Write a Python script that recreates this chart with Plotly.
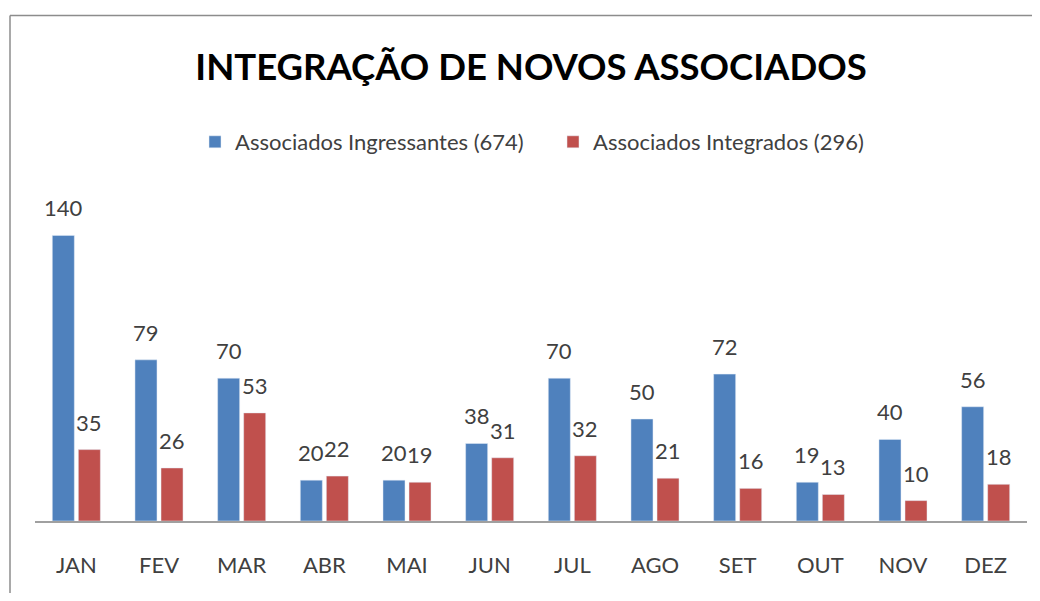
import plotly.graph_objects as go

meses = ["JAN", "FEV", "MAR", "ABR", "MAI", "JUN", "JUL", "AGO", "SET", "OUT", "NOV", "DEZ"]
ingressantes = [140, 79, 70, 20, 20, 38, 70, 50, 72, 19, 40, 56]
integrados = [35, 26, 53, 22, 19, 31, 32, 21, 16, 13, 10, 18]
nome_ing = "Associados Ingressantes (674)"
nome_int = "Associados Integrados (296)"
titulo = "INTEGRAÇÃO DE NOVOS ASSOCIADOS"

# the page body has an 8px margin; work in figure pixels = page pixels - 8
OFF = 8
W, H = 1040 - 2 * OFF, 601 - 2 * OFF
PLOT_L, PLOT_R, PLOT_B = 35 - OFF, 1027 - OFF, 521 - OFF
MT = 200 - OFF
ML, MR, MB = PLOT_L, W - PLOT_R, H - PLOT_B
PW = W - ML - MR
PH = H - MT - MB
FONT = "Lato, Carlito, Calibri, Arial, sans-serif"
BLUE = "#4F81BD"
RED = "#C0504D"

fig = go.Figure()
fig.add_trace(go.Bar(x=meses, y=ingressantes, name=nome_ing, marker_color=BLUE))
fig.add_trace(go.Bar(x=meses, y=integrados, name=nome_int, marker_color=RED))

annotations = []
for vals, shift in ((ingressantes, -13), (integrados, 13)):
    for m, v in zip(meses, vals):
        annotations.append(dict(
            x=m, y=v, xref="x", yref="y", text=str(v), showarrow=False,
            xanchor="center", yanchor="bottom", xshift=shift, yshift=12,
            font=dict(family=FONT, size=22, color="#404040")))


def px_x(p):
    return (p - OFF - ML) / PW


def px_y(p):
    return (H - MB - (p - OFF)) / PH


shapes = [
    dict(type="line", xref="paper", yref="paper", x0=px_x(10), x1=px_x(1060),
         y0=px_y(15.5), y1=px_y(15.5), line=dict(color="#8c8c8c", width=1.5)),
    dict(type="line", xref="paper", yref="paper", x0=px_x(10), x1=px_x(10),
         y0=px_y(15.5), y1=px_y(620), line=dict(color="#8c8c8c", width=1.5)),
]

fig.update_layout(
    width=W, height=H,
    margin=dict(l=ML, r=MR, t=MT, b=MB),
    paper_bgcolor="white", plot_bgcolor="white",
    barmode="group", bargap=0.37, bargroupgap=0.154,
    title=dict(text="<b>" + titulo + "</b>", x=0.5, xref="paper", xanchor="center",
               y=1 - (67 - OFF) / H, yanchor="middle",
               font=dict(family=FONT, size=36.5, color="black")),
    legend=dict(orientation="h", x=px_x(195), xanchor="left", y=px_y(142), yanchor="middle",
                entrywidth=313, entrywidthmode="pixels",
                font=dict(family=FONT, size=22, color="#404040"),
                traceorder="normal", itemclick=False, bgcolor="rgba(0,0,0,0)"),
    xaxis=dict(showline=True, linecolor="#a0a0a0", linewidth=1.5, ticks="",
               showgrid=False, ticklabelstandoff=24,
               tickfont=dict(family=FONT, size=22, color="#404040")),
    yaxis=dict(range=[0, PH / 2.04], visible=False, showgrid=False, zeroline=False),
    annotations=annotations,
    shapes=shapes,
    showlegend=True,
)

fig.write_html("out.html")
